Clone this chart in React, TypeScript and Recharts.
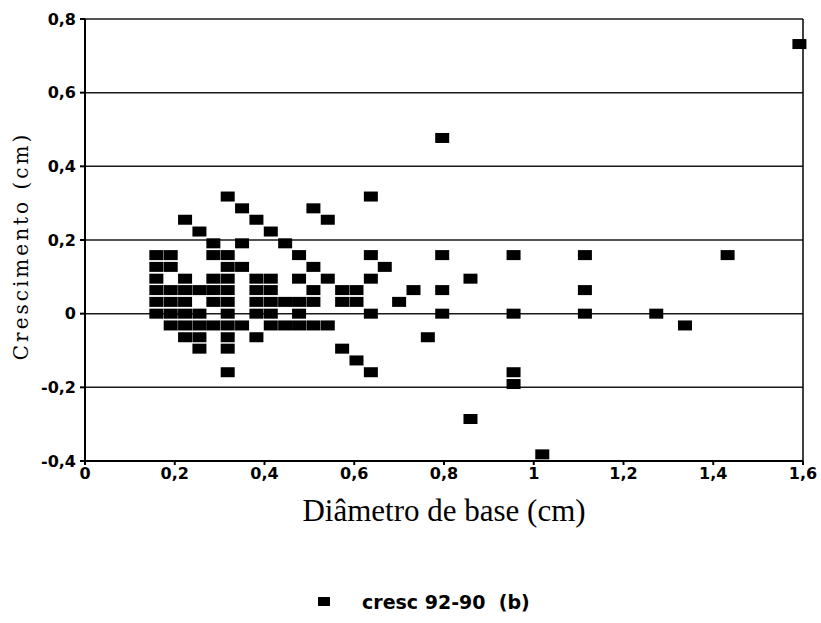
import { CartesianGrid, Legend, ReferenceLine, Scatter, ScatterChart, XAxis, YAxis } from "recharts";

// diâmetro de base (cm), one entry per column of points
const diametro = [
  0.159, 0.191, 0.223, 0.255, 0.286, 0.318, 0.35, 0.382, 0.414, 0.446, 0.477, 0.509, 0.541, 0.573, 0.605,
  0.637, 0.668, 0.7, 0.732, 0.764, 0.796, 0.859, 0.955, 1.019, 1.114, 1.273, 1.337, 1.432, 1.592,
];

// crescimento (cm) measured at each diameter above
const crescimento = [
  [0.159, 0.127, 0.095, 0.064, 0.032, 0],
  [0.159, 0.127, 0.064, 0.032, 0, -0.032],
  [0.255, 0.095, 0.064, 0.032, 0, -0.032, -0.064],
  [0.223, 0.064, 0, -0.032, -0.064, -0.095],
  [0.191, 0.159, 0.095, 0.064, 0.032, -0.032],
  [0.318, 0.159, 0.127, 0.095, 0.064, 0.032, 0, -0.032, -0.064, -0.095, -0.159],
  [0.286, 0.191, 0.127, -0.032],
  [0.255, 0.095, 0.064, 0.032, 0, -0.064],
  [0.223, 0.095, 0.064, 0.032, 0, -0.032],
  [0.191, 0.032, -0.032],
  [0.159, 0.095, 0.032, 0, -0.032],
  [0.286, 0.127, 0.064, 0.032, -0.032],
  [0.255, 0.095, -0.032],
  [0.064, 0.032, -0.095],
  [0.064, 0.032, -0.127],
  [0.318, 0.159, 0.095, 0, -0.159],
  [0.127],
  [0.032],
  [0.064],
  [-0.064],
  [0.477, 0.159, 0.064, 0],
  [0.095, -0.286],
  [0.159, 0, -0.159, -0.191],
  [-0.382],
  [0.159, 0.064, 0],
  [0],
  [-0.032],
  [0.159],
  [0.732],
];

const xTicks = [0, 0.2, 0.4, 0.6, 0.8, 1, 1.2, 1.4, 1.6];
const yTicks = [-0.4, -0.2, 0, 0.2, 0.4, 0.6, 0.8];

const points = diametro.flatMap((d, i) => crescimento[i].map((c) => ({ x: d, y: c })));

const comma = (v: number) => String(v).replace(".", ",");

const tickStyle = { fill: "#000", fontFamily: "DejaVu Sans", fontWeight: 700, fontSize: 16 };

const Square = (props: any) => (
  <rect x={props.cx - 7} y={props.cy - 5} width={14} height={10} fill="#000" />
);

const YTitle = ({ viewBox }: any) => {
  const x = viewBox.x + 21;
  const y = viewBox.y + viewBox.height / 2 + 6;
  return (
    <text
      x={x}
      y={y}
      transform={`rotate(-90 ${x} ${y})`}
      textAnchor="middle"
      dominantBaseline="central"
      fontFamily="DejaVu Serif"
      fontSize={20}
      letterSpacing={3}
      fill="#000"
    >
      Crescimento (cm)
    </text>
  );
};

const LegendBox = () => (
  <div style={{ position: "relative", height: 24 }}>
    <div style={{ position: "absolute", left: 318, top: 7, width: 12, height: 9, background: "#000" }} />
    <div
      style={{
        position: "absolute",
        left: 362,
        top: 0,
        lineHeight: "24px",
        fontFamily: "DejaVu Sans",
        fontWeight: 700,
        fontSize: 19,
        whiteSpace: "pre",
        color: "#000",
      }}
    >
      {"cresc 92-90  (b)"}
    </div>
  </div>
);

export default function App() {
  return (
    <div style={{ width: 821, height: 623, background: "#fff" }}>
      <style>{"body{margin:0}"}</style>
      <ScatterChart width={821} height={623} margin={{ top: 19, right: 18, bottom: 9, left: 0 }}>
        <CartesianGrid vertical={false} stroke="#000" strokeWidth={1.5} strokeOpacity={0.9} />
        <XAxis
          type="number"
          dataKey="x"
          domain={[0, 1.6]}
          ticks={xTicks}
          tickFormatter={comma}
          height={129}
          tickSize={4}
          tickMargin={3}
          tick={tickStyle}
          stroke="#000"
          strokeWidth={2}
          label={{
            value: "Diâmetro de base (cm)",
            position: "insideTop",
            offset: 38,
            fill: "#000",
            fontFamily: "Liberation Serif",
            fontSize: 31,
          }}
        />
        <YAxis
          type="number"
          dataKey="y"
          domain={[-0.4, 0.8]}
          ticks={yTicks}
          tickFormatter={comma}
          width={85}
          tickSize={5}
          tickMargin={4}
          tick={tickStyle}
          stroke="#000"
          strokeWidth={2}
          label={<YTitle />}
        />
        <ReferenceLine x={1.6} stroke="#000" strokeWidth={1.5} />
        <Legend height={24} content={<LegendBox />} />
        <Scatter data={points} fill="#000" shape={Square} isAnimationActive={false} />
      </ScatterChart>
    </div>
  );
}
